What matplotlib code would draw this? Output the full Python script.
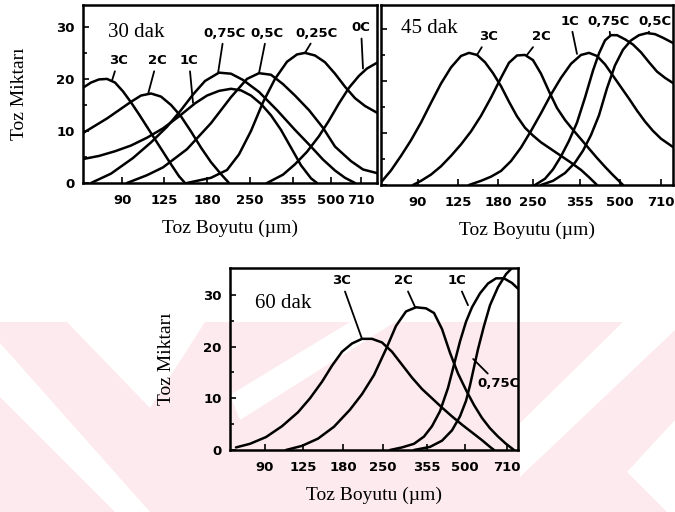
import matplotlib
matplotlib.use("Agg")
import matplotlib.pyplot as plt
from matplotlib.patches import Polygon

# x in sieve-class units (90 um tick ~ 1, 710 um tick ~ 7), y = Toz Miktarı
size_labels = ["90", "125", "180", "250", "355", "500", "710"]

# ---- 30 dak ----
d30_names = ["3C", "2C", "1C", "0,75C", "0,5C", "0,25C", "0C"]
d30_x = [
    [0, 0.2, 0.4, 0.6, 0.8, 1.0, 1.2, 1.4, 1.6, 1.8, 2.0, 2.2, 2.4, 2.55],
    [0, 0.3, 0.6, 0.9, 1.2, 1.45, 1.7, 1.95, 2.2, 2.45, 2.7, 2.95, 3.2, 3.45, 3.65],
    [0, 0.4, 0.8, 1.2, 1.6, 2.0, 2.4, 2.8, 3.1, 3.4, 3.7, 3.95, 4.2, 4.45, 4.7, 4.95, 5.2, 5.45, 5.7, 5.85],
    [0.2, 0.7, 1.25, 1.7, 2.1, 2.45, 2.75, 3.05, 3.4, 3.7, 4.0, 4.4, 4.85, 5.3, 5.7, 6.0, 6.3, 6.55, 6.8],
    [1.1, 1.6, 2.0, 2.6, 3.2, 3.7, 4.1, 4.4, 4.7, 5.0, 5.3, 5.65, 6.0, 6.3, 6.7, 7.0, 7.35],
    [2.6, 3.2, 3.6, 3.9, 4.2, 4.5, 4.8, 5.1, 5.35, 5.55, 5.8, 6.05, 6.3, 6.55, 6.8, 7.05, 7.35],
    [4.6, 5.0, 5.3, 5.6, 5.9, 6.15, 6.4, 6.65, 6.9, 7.1, 7.35],
]
d30_y = [
    [18.3, 19.3, 19.9, 20.0, 19.3, 17.6, 15.5, 13.2, 10.8, 8.4, 6.0, 3.6, 1.3, 0],
    [9.6, 11.0, 12.4, 14.0, 15.6, 16.8, 17.2, 16.6, 15.0, 12.8, 9.9, 6.8, 4.0, 1.7, 0],
    [4.6, 5.2, 6.1, 7.2, 8.7, 10.5, 12.8, 15.3, 16.8, 17.7, 18.1, 17.8, 16.8, 15.2, 13.0, 10.2, 6.8, 3.4, 0.9, 0],
    [0, 1.8, 4.8, 7.8, 10.8, 14.0, 17.0, 19.6, 21.2, 21.0, 19.8, 17.5, 14.0, 10.2, 7.0, 4.5, 2.4, 1.0, 0],
    [0, 1.5, 3.0, 6.5, 11.5, 16.5, 20.0, 21.1, 20.8, 19.0, 16.8, 14.0, 10.6, 7.0, 4.2, 2.6, 1.9],
    [0, 1.0, 2.5, 5.5, 10.0, 15.5, 20.0, 23.3, 24.7, 25.0, 24.5, 23.2, 21.0, 18.5, 16.3, 14.8, 13.5],
    [0, 1.6, 3.6, 6.0, 9.0, 12.0, 15.3, 18.3, 20.6, 22.0, 23.1],
]
d30_ticks = [0.98, 2.03, 3.1, 4.18, 5.25, 6.2, 6.95]
# label text centre (x, y) and leader line end (x, y)
d30_text = [(0.88, 23.5), (1.85, 23.5), (2.65, 23.5), (3.53, 28.8), (4.6, 28.8), (5.85, 28.8), (6.95, 29.8)]
d30_tip = [(0.73, 19.8), (1.63, 17.2), (2.75, 15.4), (3.38, 21.3), (4.4, 21.1), (5.55, 25.0), (7.0, 22.0)]

# ---- 45 dak ----
d45_names = ["3C", "2C", "1C", "0,75C", "0,5C"]
d45_x = [
    [0.0, 0.25, 0.5, 0.75, 1.0, 1.25, 1.5, 1.75, 2.0, 2.2, 2.4, 2.6, 2.8, 3.0, 3.2, 3.4, 3.6, 3.8, 4.0, 4.25, 4.5, 4.75, 5.0, 5.2, 5.4],
    [0.8, 1.0, 1.25, 1.5, 1.75, 2.0, 2.25, 2.5, 2.75, 3.0, 3.2, 3.4, 3.6, 3.8, 4.0, 4.2, 4.4, 4.6, 4.8, 5.0, 5.2, 5.4, 5.6, 5.8, 6.05],
    [2.2, 2.5, 2.75, 3.0, 3.25, 3.5, 3.75, 4.0, 4.25, 4.5, 4.75, 5.0, 5.2, 5.4, 5.6, 5.8, 6.0, 6.2, 6.4, 6.6, 6.8, 7.0, 7.3],
    [3.85, 4.1, 4.3, 4.5, 4.7, 4.9, 5.1, 5.3, 5.45, 5.6, 5.75, 5.9, 6.1, 6.3, 6.5, 6.7, 6.9, 7.1, 7.3],
    [4.0, 4.3, 4.6, 4.85, 5.05, 5.25, 5.45, 5.65, 5.85, 6.05, 6.25, 6.45, 6.65, 6.85, 7.05, 7.3],
]
d45_y = [
    [0.5, 2.8, 5.6, 8.6, 12.0, 15.8, 19.5, 22.6, 24.8, 25.4, 25.0, 23.6, 21.5, 19.0, 16.0, 13.2, 11.0, 9.5, 8.2, 6.9, 5.6, 4.3, 2.9, 1.5, 0],
    [0, 0.8, 2.0, 3.6, 5.6, 7.8, 10.3, 13.3, 16.8, 20.6, 23.5, 24.9, 25.0, 24.0, 21.4, 18.0, 14.8, 12.5, 10.6, 8.8, 7.0, 5.2, 3.5, 1.9, 0],
    [0, 0.8, 1.6, 2.7, 4.6, 7.2, 10.4, 13.8, 17.4, 20.6, 23.3, 25.0, 25.4, 24.8, 23.2, 21.0, 18.8, 16.6, 14.3, 12.2, 10.4, 8.9, 7.3],
    [0, 1.2, 3.0, 5.5, 8.5, 12.0, 16.8, 22.0, 25.3, 27.8, 28.8, 28.8, 28.0, 27.0, 25.5, 23.6, 21.8, 20.6, 19.6],
    [0, 0.8, 2.3, 4.3, 6.6, 9.6, 13.4, 18.6, 23.0, 26.0, 27.8, 28.8, 29.2, 29.0, 28.3, 27.3],
]
d45_ticks = [0.925, 1.925, 2.925, 3.8, 4.975, 5.975, 7.0]
d45_text = [(2.68, 28.5), (4.0, 28.5), (4.73, 31.5), (5.68, 31.5), (6.85, 31.5)]
d45_tip = [(2.4, 25.0), (3.65, 25.0), (4.9, 25.2), (5.73, 28.8), (6.68, 29.2)]

# ---- 60 dak ----
d60_names = ["3C", "2C", "1C", "0,75C"]
d60_x = [
    [0.15, 0.5, 0.9, 1.3, 1.7, 2.0, 2.3, 2.55, 2.8, 3.05, 3.3, 3.55, 3.8, 4.05, 4.3, 4.55, 4.8, 5.05, 5.3, 5.55, 5.8, 6.05, 6.3, 6.5, 6.6],
    [1.4, 1.8, 2.2, 2.6, 3.0, 3.3, 3.6, 3.9, 4.15, 4.4, 4.65, 4.9, 5.1, 5.3, 5.5, 5.7, 5.9, 6.1, 6.3, 6.5, 6.7, 6.9, 7.1],
    [4.0, 4.3, 4.6, 4.85, 5.05, 5.25, 5.45, 5.6, 5.75, 5.9, 6.05, 6.25, 6.45, 6.65, 6.85, 7.05, 7.2],
    [4.6, 5.0, 5.3, 5.55, 5.75, 5.9, 6.0, 6.1, 6.2, 6.35, 6.5, 6.7, 6.9, 7.05],
]
d60_y = [
    [0.5, 1.2, 2.5, 4.6, 7.3, 10.0, 13.2, 16.3, 19.0, 20.6, 21.5, 21.5, 20.8, 19.0, 16.5, 14.0, 11.8, 10.0, 8.2, 6.5, 4.9, 3.4, 1.9, 0.6, 0],
    [0, 0.8, 2.2, 4.5, 7.8, 10.8, 14.5, 19.5, 24.0, 26.8, 27.6, 27.4, 26.5, 23.4, 18.8, 14.8, 11.6, 8.7, 6.2, 4.2, 2.6, 1.2, 0],
    [0, 0.5, 1.2, 2.6, 4.6, 7.5, 12.0, 16.5, 21.0, 24.8, 27.6, 30.3, 32.2, 33.2, 33.2, 32.3, 31.2],
    [0, 0.6, 1.8, 3.8, 6.5, 9.5, 12.5, 16.0, 19.5, 24.0, 28.0, 31.5, 34.0, 35.2],
]
d60_ticks = [0.875, 1.825, 2.825, 3.825, 4.925, 5.875, 6.925]
d60_text = [(2.78, 32.7), (4.33, 32.7), (5.68, 32.7), (6.7, 12.8)]
d60_tip = [(3.3, 21.5), (4.63, 27.6), (5.95, 28.0), (6.08, 17.6)]

W, H = 675, 512
fig = plt.figure(figsize=(W / 100, H / 100), dpi=100)
fig.patch.set_facecolor("white")

# pink watermark band behind the lower panel (pixel coordinates)
band = fig.add_axes([0, 0, 1, 1], zorder=-5)
band.set_xlim(0, W)
band.set_ylim(H, 0)
band.axis("off")
pink = "#fdeaee"
band.add_patch(Polygon([(0, 322), (W, 322), (W, H), (0, H)], closed=True, color=pink, lw=0))
for pts in [
    [(67, 322), (205, 322), (150, 408)],
    [(0, 343), (150, 512), (115, 512), (0, 397)],
    [(350, 322), (395, 322), (240, 420), (230, 395)],
    [(623, 322), (675, 322), (675, 330), (520, 477), (520, 423)],
    [(627, 472), (675, 420), (675, 512), (667, 512)],
]:
    band.add_patch(Polygon(pts, closed=True, color="white", lw=0))

serif = ["Liberation Serif", "DejaVu Serif"]
cond = ["DejaVu Sans Condensed", "DejaVu Sans"]


def panel(rect, xs, ys, names, ticks, text_at, tips, xmax, ymax, title, title_at, ylabel):
    ax = fig.add_axes([rect[0] / W, 1 - rect[3] / H, (rect[2] - rect[0]) / W, (rect[3] - rect[1]) / H])
    ax.patch.set_alpha(0)
    for x, y in zip(xs, ys):
        ax.plot(x, y, color="black", lw=1.8, solid_joinstyle="round", solid_capstyle="round")
    for name, t, p in zip(names, text_at, tips):
        ax.annotate(name, xy=p, xytext=t, ha="center", va="center", fontsize=9.5, fontweight="bold",
                    family=cond, arrowprops=dict(arrowstyle="-", lw=1.3, color="black", shrinkA=1, shrinkB=0))
    ax.set_xlim(0, xmax)
    ax.set_ylim(0, ymax)
    ax.set_xticks(ticks)
    ax.set_xticklabels(size_labels, fontsize=9.5, fontweight="bold", family=cond)
    ax.set_yticks([0, 10, 20, 30])
    ax.set_yticks([5, 15, 25], minor=True)
    if ylabel:
        ax.set_yticklabels(["0", "10", "20", "30"], fontsize=9.5, fontweight="bold", family=cond)
        ax.set_ylabel("Toz Miktarı", fontsize=14, family=serif, labelpad=20)
    else:
        ax.set_yticklabels([])
    ax.tick_params(direction="in", length=4, width=1.2, pad=8)
    ax.tick_params(axis="y", pad=6)
    ax.tick_params(which="minor", direction="in", length=3, width=1.2)
    for s in ax.spines.values():
        s.set_linewidth(1.8)
    ax.set_xlabel("Toz Boyutu (µm)", fontsize=14, family=serif, labelpad=9)
    ax.text(title_at[0], title_at[1], title, fontsize=15, family=serif, va="center")
    return ax


panel((83, 5, 377, 183), d30_x, d30_y, d30_names, d30_ticks, d30_text, d30_tip,
      7.35, 34.2, "30 dak", (0.62, 29.0), True)
panel((381, 5, 673, 185), d45_x, d45_y, d45_names, d45_ticks, d45_text, d45_tip,
      7.3, 34.6, "45 dak", (0.5, 30.0), False)
panel((230, 268, 518, 450), d60_x, d60_y, d60_names, d60_ticks, d60_text, d60_tip,
      7.2, 35.2, "60 dak", (0.62, 28.4), True)

fig.savefig("out.png", dpi=100)
